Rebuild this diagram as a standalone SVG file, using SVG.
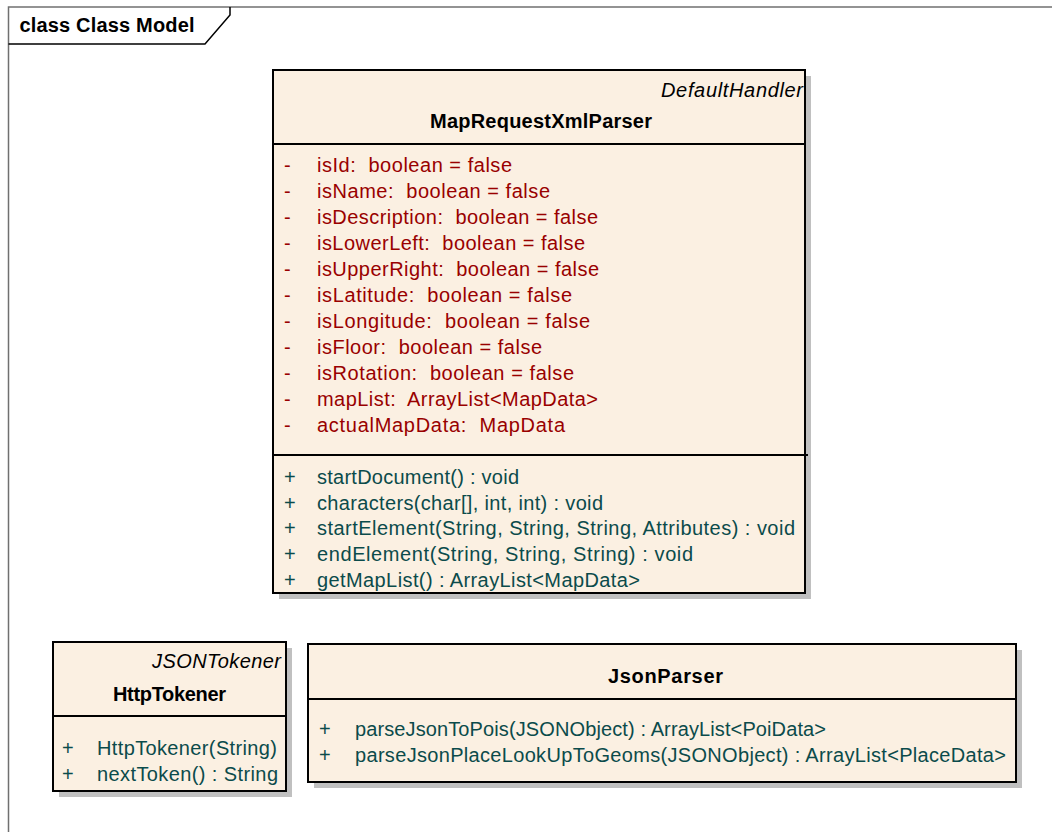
<svg xmlns="http://www.w3.org/2000/svg" width="1052" height="832" viewBox="0 0 1052 832">
<style>
text{font-family:"Liberation Sans",Arial,sans-serif;font-size:20px;white-space:pre}
.box{fill:#FBF0E2;stroke:#000;stroke-width:2}
.shadow{fill:#C0C0C0}
.sep{stroke:#000;stroke-width:2}
.attr{fill:#990000}
.op{fill:#0B4B4B}
.name{font-weight:bold;fill:#000}
.stereo{font-style:italic;fill:#000}
</style>
<rect width="1052" height="832" fill="#fff"/>
<g id="frame">
<path d="M8.5,832 V7 H1052" fill="none" stroke="#707070" stroke-width="1.5"/>
<path d="M8.5,44 H205 L230,15 V7" fill="none" stroke="#000" stroke-width="1.5"/>
<text x="19.5" y="32" textLength="175" style="font-weight:bold">class Class Model</text>
</g>
<g id="MapRequestXmlParser">
<rect class="shadow" x="279" y="76" width="532" height="523"/>
<rect class="box" x="273" y="70" width="532" height="523"/>
<line class="sep" x1="273" y1="144" x2="805" y2="144"/>
<line class="sep" x1="273" y1="455" x2="808" y2="455"/>
<text class="stereo" x="661" y="97" textLength="142">DefaultHandler</text>
<text class="name" x="430" y="128" textLength="222">MapRequestXmlParser</text>
<g class="attr">
<text x="284" y="172">-</text><text x="317" y="172" textLength="195">isId:  boolean = false</text>
<text x="284" y="198">-</text><text x="317" y="198" textLength="233">isName:  boolean = false</text>
<text x="284" y="224">-</text><text x="317" y="224" textLength="281">isDescription:  boolean = false</text>
<text x="284" y="250">-</text><text x="317" y="250" textLength="268">isLowerLeft:  boolean = false</text>
<text x="284" y="276">-</text><text x="317" y="276" textLength="282">isUpperRight:  boolean = false</text>
<text x="284" y="302">-</text><text x="317" y="302" textLength="255">isLatitude:  boolean = false</text>
<text x="284" y="328">-</text><text x="317" y="328" textLength="273">isLongitude:  boolean = false</text>
<text x="284" y="354">-</text><text x="317" y="354" textLength="225">isFloor:  boolean = false</text>
<text x="284" y="380">-</text><text x="317" y="380" textLength="257">isRotation:  boolean = false</text>
<text x="284" y="406">-</text><text x="317" y="406" textLength="281">mapList:  ArrayList&lt;MapData&gt;</text>
<text x="284" y="432">-</text><text x="317" y="432" textLength="248">actualMapData:  MapData</text>
</g>
<g class="op">
<text x="284" y="484">+</text><text x="317" y="484" textLength="202">startDocument() : void</text>
<text x="284" y="510">+</text><text x="317" y="510" textLength="286">characters(char[], int, int) : void</text>
<text x="284" y="535">+</text><text x="317" y="535" textLength="478">startElement(String, String, String, Attributes) : void</text>
<text x="284" y="561">+</text><text x="317" y="561" textLength="376">endElement(String, String, String) : void</text>
<text x="284" y="587">+</text><text x="317" y="587" textLength="323">getMapList() : ArrayList&lt;MapData&gt;</text>
</g>
</g>
<g id="HttpTokener">
<rect class="shadow" x="59" y="648" width="233" height="149"/>
<rect class="box" x="53" y="642" width="233" height="149"/>
<line class="sep" x1="53" y1="716" x2="286" y2="716"/>
<text class="stereo" x="152" y="668" textLength="129">JSONTokener</text>
<text class="name" x="113" y="701" textLength="113">HttpTokener</text>
<g class="op">
<text x="62" y="755">+</text><text x="97" y="755" textLength="180">HttpTokener(String)</text>
<text x="62" y="781">+</text><text x="97" y="781" textLength="181">nextToken() : String</text>
</g>
</g>
<g id="JsonParser">
<rect class="shadow" x="314" y="650" width="708" height="138"/>
<rect class="box" x="308" y="644" width="708" height="138"/>
<line class="sep" x1="308" y1="699" x2="1016" y2="699"/>
<text class="name" x="608" y="683" textLength="115">JsonParser</text>
<g class="op">
<text x="319" y="736">+</text><text x="355" y="736" textLength="471">parseJsonToPois(JSONObject) : ArrayList&lt;PoiData&gt;</text>
<text x="319" y="762">+</text><text x="355" y="762" textLength="651">parseJsonPlaceLookUpToGeoms(JSONObject) : ArrayList&lt;PlaceData&gt;</text>
</g>
</g>
<g id="connectors"></g>
</svg>
